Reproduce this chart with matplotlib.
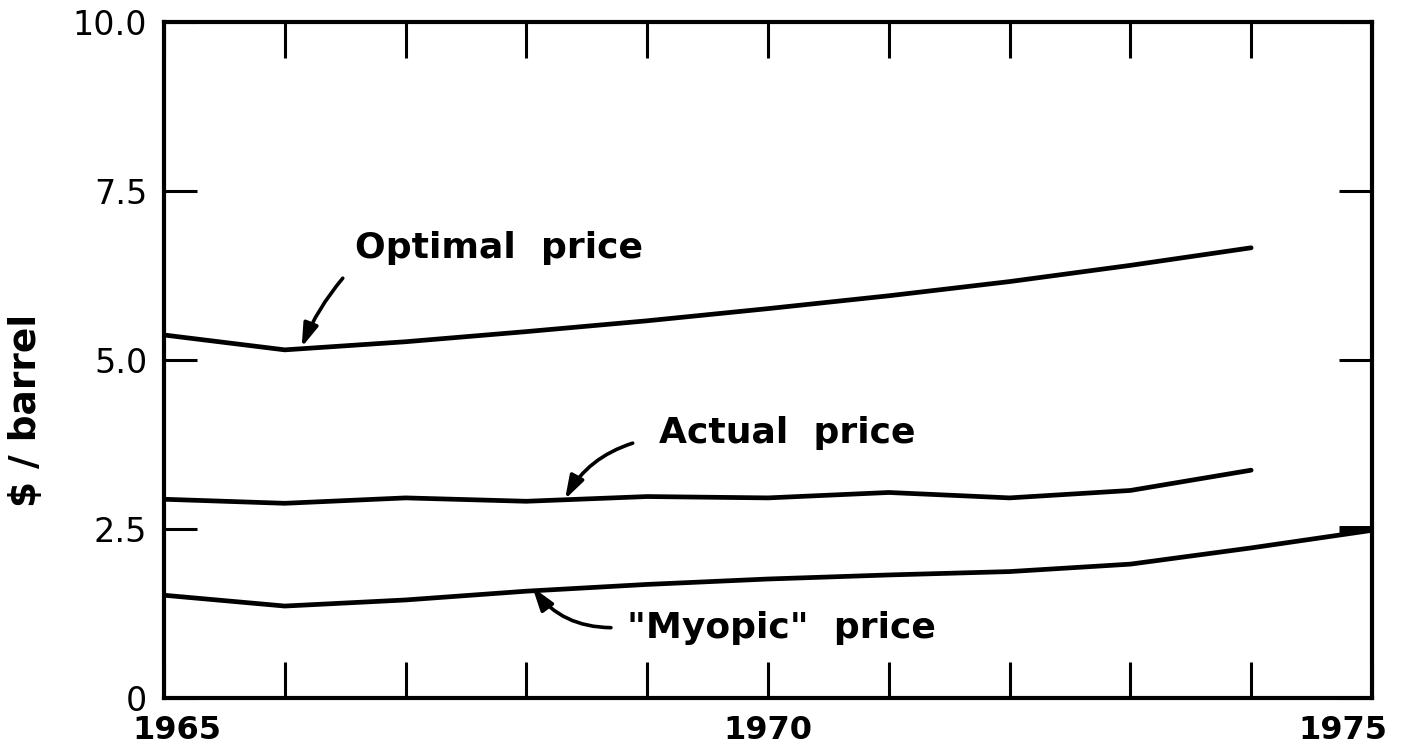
import matplotlib
matplotlib.use("Agg")
import matplotlib.pyplot as plt
import matplotlib.transforms as mtransforms

# Values ($ / barrel)
years = [1965, 1966, 1967, 1968, 1969, 1970, 1971, 1972, 1973, 1974]
optimal_price = [5.37, 5.15, 5.27, 5.42, 5.58, 5.76, 5.95, 6.16, 6.40, 6.66]
actual_price = [2.94, 2.88, 2.96, 2.91, 2.98, 2.96, 3.04, 2.96, 3.07, 3.37]

myopic_years = [1965, 1966, 1967, 1968, 1969, 1970, 1971, 1972, 1973, 1974, 1975]
myopic_price = [1.52, 1.36, 1.45, 1.58, 1.68, 1.76, 1.82, 1.87, 1.98, 2.22, 2.48]

x_ticks = list(range(1965, 1976))
x_tick_labels = ["1965", "", "", "", "", "1970", "", "", "", "", "1975"]
y_ticks = [0, 2.5, 5.0, 7.5, 10.0]
y_tick_labels = ["0", "2.5", "5.0", "7.5", "10.0"]

plt.rcParams["font.family"] = ["DejaVu Sans"]


def main():

    fig = plt.figure(figsize=(14.1, 7.54), dpi=100)
    ax = fig.add_axes([0.1163, 0.0743, 0.8567, 0.8965])

    line_kw = dict(color="black", linewidth=3.4, solid_capstyle="round")
    ax.plot(years, optimal_price, **line_kw)
    ax.plot(years, actual_price, **line_kw)
    ax.plot(myopic_years, myopic_price, **line_kw)

    ax.set_xlim(1965, 1975)
    ax.set_ylim(0, 10)

    # Axes frame
    for side in ["left", "right", "top", "bottom"]:
        ax.spines[side].set_linewidth(3.0)

    ax.set_xticks(x_ticks)
    ax.set_xticklabels(x_tick_labels, fontsize=23, fontweight="bold")
    ax.set_yticks(y_ticks)
    ax.set_yticklabels(y_tick_labels, fontsize=24)

    ax.tick_params(axis="x", direction="in", length=26, width=2.2,
                   top=True, bottom=True, pad=12)
    ax.tick_params(axis="y", direction="in", length=24, width=2.2,
                   left=True, right=True, pad=12)

    # Thick short mark on the right edge at 2.5
    ax.yaxis.get_major_ticks()[1].tick2line.set_markeredgewidth(5)

    # Shift the end year labels a bit, as in the original
    fig.canvas.draw()
    labels = ax.get_xticklabels()
    shifts = {0: 13, 10: -29}
    for idx, dx in shifts.items():
        off = mtransforms.ScaledTranslation(dx / 100, 0, fig.dpi_scale_trans)
        labels[idx].set_transform(labels[idx].get_transform() + off)

    ax.set_ylabel("$ / barrel", fontsize=27, fontweight="bold")
    ax.yaxis.set_label_coords(-0.099, 0.426)

    # Curve labels with curved arrows
    arrow_kw = dict(arrowstyle="-|>,head_length=1.4,head_width=0.45",
                    color="black", lw=2.6, shrinkA=0, shrinkB=0)
    text_kw = dict(fontsize=26, fontweight="bold", ha="center", va="center")

    ax.text(1967.77, 6.66, "Optimal  price", **text_kw)
    ax.annotate("", xy=(1966.14, 5.19), xytext=(1966.48, 6.21),
                arrowprops=dict(connectionstyle="arc3,rad=0.08", **arrow_kw))

    ax.text(1970.16, 3.92, "Actual  price", **text_kw)
    ax.annotate("", xy=(1968.32, 2.94), xytext=(1968.88, 3.77),
                arrowprops=dict(connectionstyle="arc3,rad=0.2", **arrow_kw))

    ax.text(1970.11, 1.04, "\"Myopic\"  price", **text_kw)
    ax.annotate("", xy=(1968.05, 1.64), xytext=(1968.70, 1.04),
                arrowprops=dict(connectionstyle="arc3,rad=-0.25", **arrow_kw))

    fig.savefig("out.png", dpi=100)


if __name__ == "__main__":
    main()
